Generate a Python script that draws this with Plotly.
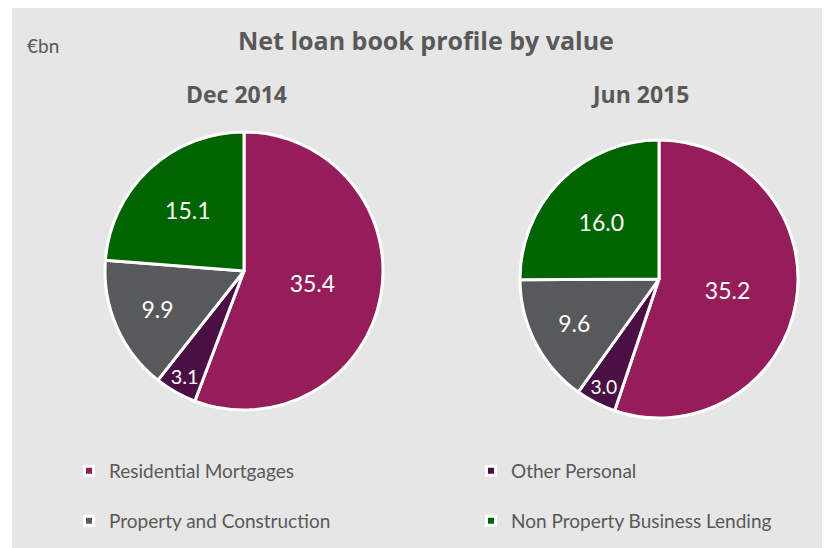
import plotly.graph_objects as go

W, H = 830, 548
OX, OY = 8, 8  # page body margin offset

categories = ["Residential Mortgages", "Other Personal", "Property and Construction", "Non Property Business Lending"]
dec_2014 = [35.4, 3.1, 9.9, 15.1]
jun_2015 = [35.2, 3.0, 9.6, 16.0]
colors = ["#951D5A", "#4A1043", "#58595B", "#006400"]
period_labels = ["Dec 2014", "Jun 2015"]
title_text = "Net loan book profile by value"
unit_text = "€bn"

FONT = "Lato, 'Open Sans', sans-serif"
BFONT = "'Open Sans', Lato, sans-serif"
TXT = "#595959"


def sx(x):
    return (x - OX) / W


def sy(y):
    return 1 - (y - OY) / H


fig = go.Figure()

pie_boxes = [
    ([sx(105), sx(383)], [sy(410), sy(132)]),
    ([sx(520), sx(798)], [sy(418), sy(140)]),
]
for vals, (dx, dy) in zip([dec_2014, jun_2015], pie_boxes):
    fig.add_trace(go.Pie(
        labels=categories, values=vals, sort=False, direction="clockwise", rotation=0,
        marker=dict(colors=colors, line=dict(color="white", width=3)),
        textinfo="value", texttemplate="%{value:.1f}", textposition="inside",
        insidetextorientation="horizontal",
        textfont=dict(family=FONT, size=23, color="white"),
        domain=dict(x=dx, y=dy), showlegend=False, hoverinfo="label+value",
    ))

# legend entries, one legend box per entry (2 x 2 grid)
legend_names = ["legend", "legend2", "legend3", "legend4"]
for cat, col, lg in zip(categories, colors, legend_names):
    fig.add_trace(go.Scatter(
        x=[None], y=[None], mode="markers", name=cat,
        marker=dict(symbol="square", size=9, color=col, line=dict(color="white", width=3)),
        legend=lg,
    ))

leg_pos = [(69, 471), (471, 471), (69, 521), (471, 521)]
leg_layout = {}
for lg, (lx, ly) in zip(legend_names, leg_pos):
    leg_layout[lg] = dict(
        x=sx(lx), y=sy(ly), xanchor="left", yanchor="middle", orientation="h",
        font=dict(family=FONT, size=19, color=TXT), bgcolor="rgba(0,0,0,0)",
        itemwidth=30,
    )
fig.update_layout(**leg_layout)

fig.update_xaxes(visible=False)
fig.update_yaxes(visible=False)

# white strip at the left edge of the panel
fig.add_shape(type="rect", xref="paper", yref="paper", x0=0, x1=sx(12), y0=0, y1=1,
              fillcolor="white", line=dict(width=0), layer="below")

annotations = [
    dict(text="<b>" + title_text + "</b>", x=sx(426), y=sy(40), font=dict(family=BFONT, size=25)),
    dict(text=unit_text, x=sx(43), y=sy(46), font=dict(family=FONT, size=19)),
    dict(text="<b>" + period_labels[0] + "</b>", x=sx(236), y=sy(94), font=dict(family=BFONT, size=23)),
    dict(text="<b>" + period_labels[1] + "</b>", x=sx(640), y=sy(94), font=dict(family=BFONT, size=23)),
]
for a in annotations:
    a.update(xref="paper", yref="paper", showarrow=False, xanchor="center", yanchor="middle")
    a["font"].update(color=TXT)

fig.update_layout(
    width=W, height=H, margin=dict(l=0, r=0, t=0, b=0),
    paper_bgcolor="#E6E6E6", plot_bgcolor="rgba(0,0,0,0)",
    annotations=annotations,
)

fig.write_html("out.html")
